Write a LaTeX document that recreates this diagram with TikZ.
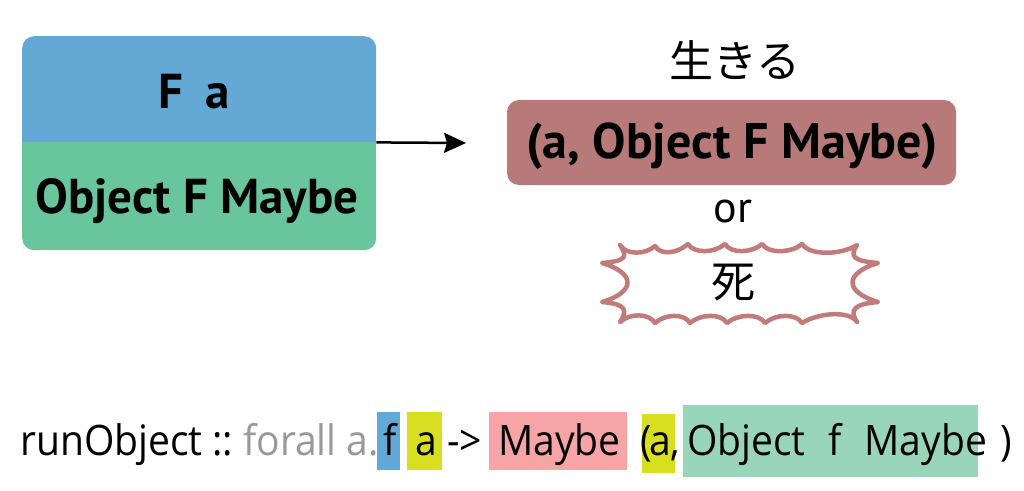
\documentclass[tikz,border=0pt]{standalone}
\usepackage{fontspec}
\setmainfont{PT Sans}
\newfontfamily\cjk{Noto Sans CJK JP}
\newfontfamily\codefont[FakeStretch=0.93]{Open Sans}
\usetikzlibrary{arrows.meta}
\definecolor{fblue}{HTML}{64A8D6}
\definecolor{fgreen}{HTML}{68C59C}
\definecolor{maroon}{HTML}{B77A78}
\definecolor{burst}{HTML}{C07B7A}
\definecolor{hlblue}{HTML}{64A8D6}
\definecolor{hlyellow}{HTML}{D8DF20}
\definecolor{hlpink}{HTML}{F7A4A6}
\definecolor{hlgreen}{HTML}{99D5B9}
\definecolor{codegray}{HTML}{999999}
\tikzset{
  panel/.style={rounded corners=12pt, inner sep=0pt, anchor=north west},
  bigtxt/.style={font=\bfseries\fontsize{49}{55}\selectfont, inner sep=0pt},
  jptxt/.style={font=\cjk\fontsize{44}{50}\selectfont, inner sep=0pt},
  code/.style={font=\codefont\fontsize{42}{48}\selectfont, inner sep=0pt, anchor=base west},
  hl/.style={inner sep=0pt, anchor=north west},
  arr/.style={line width=2.5pt, -{Stealth[length=22pt, width=20pt, inset=3pt]}}
}
\begin{document}
\begin{tikzpicture}[x=1pt,y=-1pt]
\useasboundingbox (0,0) rectangle (1024,490);
% left box
\node[panel, fill=fblue, minimum width=354pt, minimum height=106pt] (top) at (22,36) {};
\fill[fblue] ([yshift=14pt]top.south west) rectangle (top.south east);
\node[panel, fill=fgreen, minimum width=354pt, minimum height=108pt] (bot) at (22,142) {};
\fill[fgreen] ([yshift=-14pt]bot.north west) rectangle (bot.north east);
\node[bigtxt, anchor=base] (fa) at (194,108) {F\hspace{0.45em}a};
\node[bigtxt, anchor=base] (obj) at (197,213) {Object F Maybe};
% arrow
\coordinate (arrend) at (466,143);
\draw[arr] (top.south east) -- (arrend);
% right side
\node[jptxt, anchor=center] (ikiru) at (735,60) {生きる};
\node[fill=maroon, rounded corners=12pt, minimum width=449pt, minimum height=85pt, inner sep=0pt] (live) at (731.5,142.5) {};
\node[font=\bfseries\fontsize{50}{56}\selectfont, inner sep=0pt, anchor=base] (livetxt) at (732,158) {(a, Object F Maybe)};
\node[font=\fontsize{44}{50}\selectfont, inner sep=0pt, anchor=base] (or) at (733,222) {or};
% starburst
\foreach \n/\p in {1/{620,245},2/{655,246},3/{688,244},4/{725,244},5/{762,244},6/{802,244},7/{857,245},
  8/{878,263},9/{878,302},10/{857,322},11/{802,323},12/{765,323},13/{727,323},14/{690,323},15/{655,323},16/{620,322},
  17/{602,302},18/{602,263}}
  \coordinate (s\n) at (\p);
\draw[burst, line width=4.5pt, line join=round]
  (s1) .. controls +(6,10) and +(-10,9) .. (s2)
       .. controls +(6,10) and +(-10,9) .. (s3)
       .. controls +(6,10) and +(-10,9) .. (s4)
       .. controls +(6,10) and +(-10,9) .. (s5)
       .. controls +(6,10) and +(-10,9) .. (s6)
       .. controls +(8,12) and +(-16,10) .. (s7)
       .. controls +(-8,12) and +(-24,-2) .. (s8)
       .. controls +(-34,10) and +(-34,-10) .. (s9)
       .. controls +(-24,2) and +(-8,-12) .. (s10)
       .. controls +(-8,-12) and +(16,-10) .. (s11)
       .. controls +(-6,-10) and +(10,-9) .. (s12)
       .. controls +(-6,-10) and +(10,-9) .. (s13)
       .. controls +(-6,-10) and +(10,-9) .. (s14)
       .. controls +(-6,-10) and +(10,-9) .. (s15)
       .. controls +(-6,-10) and +(10,-9) .. (s16)
       .. controls +(8,-12) and +(24,2) .. (s17)
       .. controls +(34,-10) and +(34,10) .. (s18)
       .. controls +(24,-2) and +(8,12) .. (s1) -- cycle;
\node[jptxt, anchor=center] (shi) at (733,283) {死};
% bottom code line
\node[hl, fill=hlblue, minimum width=23pt, minimum height=58pt] (hf) at (377,412) {};
\node[hl, fill=hlyellow, minimum width=35pt, minimum height=58pt] (ha) at (407,412) {};
\node[hl, fill=hlpink, minimum width=138pt, minimum height=58pt] (hm) at (489,412) {};
\node[hl, fill=hlyellow, minimum width=33pt, minimum height=59pt] (ha2) at (642,414) {};
\node[hl, fill=hlgreen, minimum width=295pt, minimum height=72pt] (ho) at (683,405) {};
\node[code] (c1) at (20,455) {runObject};
\node[code] (c2) at (212,455) {::};
\node[code, text=codegray] (c3) at (243,455) {forall a.};
\node[code] (c4) at (383,455) {f};
\node[code] (c5) at (415,455) {a};
\node[code] (c6) at (447,455) {->};
\node[code] (c7) at (498,455) {Maybe};
\node[code] (c8) at (640,455) {(};
\node[code] (c9) at (649,455) {a,};
\node[code] (c10) at (687,455) {Object\hspace{0.3em} f\hspace{0.3em} Maybe};
\node[code] (c11) at (1000,455) {)};
\end{tikzpicture}
\end{document}
